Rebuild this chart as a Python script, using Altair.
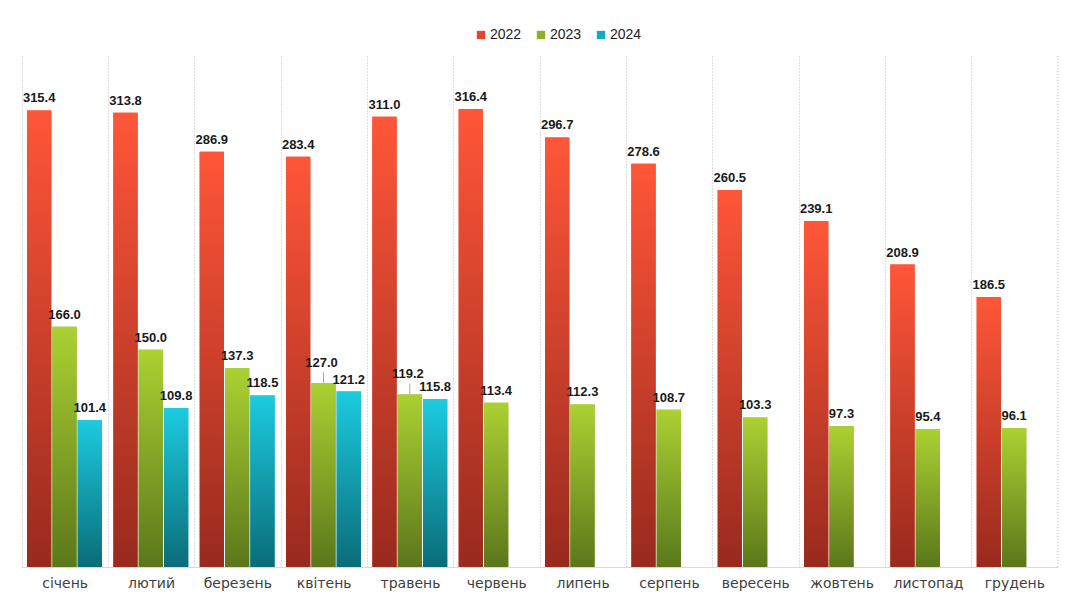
import altair as alt
import pandas as pd

months = ["січень", "лютий", "березень", "квітень", "травень", "червень",
          "липень", "серпень", "вересень", "жовтень", "листопад", "грудень"]
years = ["2022", "2023", "2024"]
v2022 = [315.4, 313.8, 286.9, 283.4, 311.0, 316.4, 296.7, 278.6, 260.5, 239.1, 208.9, 186.5]
v2023 = [166.0, 150.0, 137.3, 127.0, 119.2, 113.4, 112.3, 108.7, 103.3, 97.3, 95.4, 96.1]
v2024 = [101.4, 109.8, 118.5, 121.2, 115.8]

rows = []
for yr, vals in zip(years, [v2022, v2023, v2024]):
    for i, (m, v) in enumerate(zip(months, vals)):
        crowded = (yr == "2023" and i < len(v2024) and abs(v - v2024[i]) < 10)
        rows.append({"month": m, "year": yr, "value": v, "label": f"{v:.1f}",
                     "crowded": crowded})
df = pd.DataFrame(rows)

top_colors = ["#ff5638", "#abd132", "#1ccbe0"]
bot_colors = ["#982a1e", "#5b771b", "#0a6c78"]
legend_colors = ["#e2462f", "#8fb12a", "#17aabd"]

W, H = 1036, 511

x = alt.X("month:N", sort=months, title=None,
          scale=alt.Scale(paddingInner=0, paddingOuter=0),
          axis=alt.Axis(labelAngle=0, labelFont="DejaVu Sans", labelFontSize=14,
                        labelColor="#404040", labelPadding=9, ticks=False,
                        domainColor="#d9d9d9", grid=True, bandPosition=0,
                        gridColor="#bdbdbd", gridDash=[1, 2], gridWidth=1))
xo = alt.XOffset("year:N", sort=years,
                 scale=alt.Scale(domain=years, paddingInner=0.04, paddingOuter=0.225, align=0.44))
y = alt.Y("value:Q", scale=alt.Scale(domain=[0, 353], nice=False), axis=None)

base = alt.Chart(df)

legend_layer = base.mark_bar().encode(
    x=x, xOffset=xo, y=y,
    color=alt.Color("year:N", sort=years,
                    scale=alt.Scale(domain=years, range=legend_colors),
                    legend=alt.Legend(title=None, orient="none", direction="horizontal",
                                      legendX=452, legendY=-28, symbolType="square",
                                      symbolSize=70, labelFont="Liberation Sans",
                                      labelFontSize=14, labelColor="#222222",
                                      labelOffset=2, columnPadding=12, symbolStrokeWidth=0))
)

layers = [legend_layer]
for yr, tc, bc in zip(years, top_colors, bot_colors):
    grad = alt.Gradient(gradient="linear",
                        stops=[alt.GradientStop(color=tc, offset=0),
                               alt.GradientStop(color=bc, offset=1)],
                        x1=0, x2=0, y1=0, y2=1)
    layers.append(
        base.transform_filter(alt.datum.year == yr)
        .mark_bar(color=grad)
        .encode(x=x, xOffset=xo, y=y)
    )

text_style = dict(baseline="bottom", font="Liberation Sans", fontSize=13,
                  fontWeight="bold", color="#1a1a1a")
text_layer = base.transform_filter("!datum.crowded").mark_text(dy=-5, **text_style).encode(
    x=x, xOffset=xo, y=y, text="label:N")
layers.append(text_layer)

raised_text = base.transform_filter("datum.crowded").mark_text(dy=-13, dx=-2, **text_style).encode(
    x=x, xOffset=xo, y=y, text="label:N")
layers.append(raised_text)

leader = base.transform_filter("datum.crowded").mark_rule(
    color="#a6a6a6", strokeWidth=1, y2Offset=-11).encode(
    x=x, xOffset=xo, y=y, y2=alt.Y2("value:Q"))
layers.append(leader)

right_rule = alt.Chart(pd.DataFrame({"a": [0]})).mark_rule(
    color="#bdbdbd", strokeDash=[1, 2], strokeWidth=1).encode(
    x=alt.value(W), y=alt.value(0), y2=alt.value(H))
layers.append(right_rule)

chart = alt.layer(*layers).properties(
    width=W, height=H,
    background="white",
    autosize=alt.AutoSizeParams(type="none"),
    padding={"left": 14, "top": 48, "right": 10, "bottom": 40},
).configure_view(stroke="transparent", strokeWidth=0)

chart.save("out.html", embed_options={"renderer": "svg", "actions": False})
